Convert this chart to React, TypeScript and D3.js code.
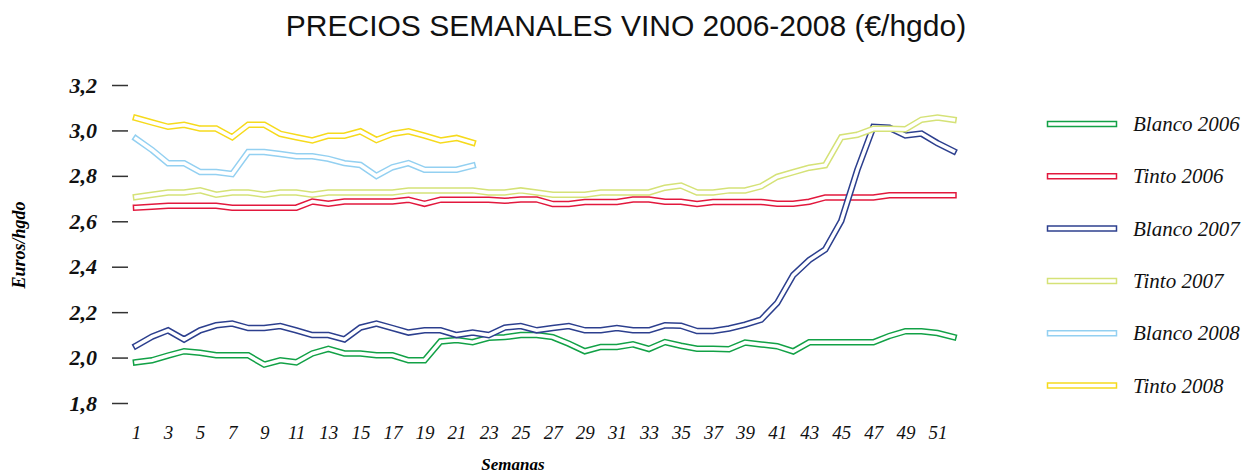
import React, { useEffect, useRef } from 'react'
import * as d3 from 'd3'

// weekly prices, euros per hectolitre-degree
const weeks = d3.range(1, 53)

const blanco2006 = [
  1.979, 1.988, 2.009, 2.028, 2.021, 2.01, 2.01, 2.01, 1.969, 1.988,
  1.979, 2.018, 2.038, 2.018, 2.018, 2.01, 2.01, 1.988, 1.988, 2.071,
  2.077, 2.068, 2.087, 2.09, 2.099, 2.099, 2.09, 2.061, 2.028, 2.047,
  2.047, 2.058, 2.038, 2.068, 2.052, 2.039, 2.039, 2.037, 2.066, 2.058,
  2.05, 2.027, 2.067, 2.067, 2.067, 2.067, 2.067, 2.095, 2.116, 2.116,
  2.108, 2.09
]
const tinto2006 = [
  2.66, 2.664, 2.668, 2.668, 2.668, 2.668, 2.66, 2.66, 2.66, 2.66,
  2.66, 2.687, 2.677, 2.687, 2.687, 2.687, 2.687, 2.695, 2.677, 2.695,
  2.695, 2.695, 2.695, 2.69, 2.696, 2.696, 2.676, 2.676, 2.685, 2.685,
  2.685, 2.696, 2.696, 2.686, 2.686, 2.676, 2.685, 2.685, 2.685, 2.685,
  2.677, 2.677, 2.686, 2.705, 2.705, 2.705, 2.705, 2.715, 2.715, 2.715,
  2.715, 2.715
]
const blanco2007 = [
  2.052, 2.092, 2.12, 2.08, 2.12, 2.142, 2.15, 2.13, 2.13, 2.139,
  2.12, 2.099, 2.099, 2.08, 2.132, 2.15, 2.13, 2.11, 2.12, 2.12,
  2.099, 2.11, 2.099, 2.132, 2.139, 2.12, 2.13, 2.139, 2.12, 2.12,
  2.13, 2.12, 2.12, 2.142, 2.14, 2.117, 2.117, 2.128, 2.145, 2.167,
  2.24, 2.363, 2.429, 2.476, 2.602, 2.826, 3.016, 3.012, 2.978, 2.986,
  2.944, 2.909
]
const tinto2007 = [
  2.707, 2.717, 2.727, 2.727, 2.736, 2.717, 2.727, 2.727, 2.717, 2.727,
  2.727, 2.717, 2.727, 2.727, 2.727, 2.727, 2.727, 2.736, 2.736, 2.736,
  2.736, 2.736, 2.727, 2.727, 2.736, 2.727, 2.717, 2.717, 2.717, 2.727,
  2.727, 2.727, 2.727, 2.748, 2.757, 2.727, 2.727, 2.736, 2.736, 2.754,
  2.796, 2.816, 2.836, 2.847, 2.97, 2.981, 3.007, 3.007, 3.005, 3.047,
  3.057, 3.047
]
const blanco2008 = [
  2.964, 2.914, 2.856, 2.856, 2.817, 2.817, 2.808, 2.905, 2.905, 2.896,
  2.886, 2.886, 2.875, 2.856, 2.848, 2.8, 2.838, 2.856, 2.827, 2.827,
  2.827, 2.845
]
const tinto2008 = [
  3.055, 3.035, 3.016, 3.025, 3.008, 3.008, 2.97, 3.025, 3.025, 2.985,
  2.97, 2.956, 2.977, 2.977, 2.996, 2.958, 2.985, 2.996, 2.977, 2.956,
  2.967, 2.946
]

const seriesNames = ['Blanco 2006', 'Tinto 2006', 'Blanco 2007', 'Tinto 2007', 'Blanco 2008', 'Tinto 2008']
const seriesValues = [blanco2006, tinto2006, blanco2007, tinto2007, blanco2008, tinto2008]
const seriesColors = ['#12a146', '#e2183d', '#2c3f8e', '#d5e277', '#93d0f1', '#f6da1c']

const yTicks = [1.8, 2.0, 2.2, 2.4, 2.6, 2.8, 3.0, 3.2]
const xTicks = d3.range(1, 52, 2)

function App() {
  const ref = useRef<SVGSVGElement>(null)

  useEffect(() => {
    const svg = d3.select(ref.current)
    svg.selectAll('*').remove()

    const x = d3.scaleLinear().domain([1, 52]).range([136, 953.5])
    const y = d3.scaleLinear().domain([1.8, 3.2]).range([403, 85])

    svg.append('text')
      .attr('x', 626)
      .attr('y', 36)
      .attr('text-anchor', 'middle')
      .attr('font-family', 'Liberation Sans, Arial, sans-serif')
      .attr('font-size', 30)
      .attr('fill', '#111')
      .text('PRECIOS SEMANALES VINO 2006-2008 (€/hgdo)')

    // y axis: ticks only, no domain line
    const yAxis = svg.append('g')
      .attr('transform', 'translate(128,0)')
      .call(d3.axisLeft(y)
        .tickValues(yTicks)
        .tickSize(16)
        .tickPadding(15)
        .tickFormat(d => d3.format('.1f')(d as number).replace('.', ',')))
    yAxis.select('.domain').remove()
    yAxis.selectAll('line').attr('stroke', '#333').attr('stroke-width', 1.5)
    yAxis.selectAll('text')
      .attr('font-family', 'Liberation Serif, Times New Roman, serif')
      .attr('font-style', 'italic')
      .attr('font-weight', 'bold')
      .attr('font-size', 22)
      .attr('fill', '#111')

    const xAxis = svg.append('g')
      .attr('transform', 'translate(0,421)')
      .call(d3.axisBottom(x).tickValues(xTicks).tickSize(0).tickPadding(5).tickFormat(d3.format('d')))
    xAxis.select('.domain').remove()
    xAxis.selectAll('text')
      .attr('font-family', 'Liberation Serif, Times New Roman, serif')
      .attr('font-style', 'italic')
      .attr('font-size', 19)
      .attr('fill', '#111')

    svg.append('text')
      .attr('x', 513)
      .attr('y', 470)
      .attr('text-anchor', 'middle')
      .attr('font-family', 'Liberation Serif, Times New Roman, serif')
      .attr('font-style', 'italic')
      .attr('font-weight', 'bold')
      .attr('font-size', 17)
      .text('Semanas')

    svg.append('text')
      .attr('transform', 'translate(25,245) rotate(-90)')
      .attr('text-anchor', 'middle')
      .attr('font-family', 'Liberation Serif, Times New Roman, serif')
      .attr('font-style', 'italic')
      .attr('font-weight', 'bold')
      .attr('font-size', 18)
      .text('Euros/hgdo')

    const line = d3.line<number>()
      .x((d, i) => x(weeks[i]))
      .y(d => y(d))

    // double line look: coloured wide stroke with a white core
    const drawBand = (g: d3.Selection<SVGGElement, unknown, null, undefined>, d: string, color: string) => {
      g.append('path')
        .attr('d', d)
        .attr('fill', 'none')
        .attr('stroke', color)
        .attr('stroke-width', 6.5)
        .attr('stroke-linejoin', 'miter')
        .attr('stroke-linecap', 'square')
      g.append('path')
        .attr('d', d)
        .attr('fill', 'none')
        .attr('stroke', '#fff')
        .attr('stroke-width', 3.5)
        .attr('stroke-linejoin', 'miter')
        .attr('stroke-linecap', 'square')
    }

    const plot = svg.append('g')
    seriesValues.forEach((vals, i) => {
      drawBand(plot.append('g'), line(vals) as string, seriesColors[i])
    })

    const legend = svg.append('g')
    seriesNames.forEach((name, i) => {
      const ly = 124 + i * 52.3
      const g = legend.append('g')
      drawBand(g, `M1050,${ly}H1114`, seriesColors[i])
      g.append('text')
        .attr('x', 1133)
        .attr('y', ly + 7)
        .attr('font-family', 'Liberation Serif, Times New Roman, serif')
        .attr('font-style', 'italic')
        .attr('font-size', 21)
        .attr('fill', '#111')
        .text(name)
    })
  }, [])

  return (
    <svg ref={ref} width={1251} height={476} style={{ position: 'absolute', left: 0, top: 0 }}></svg>
  )
}

export default App
